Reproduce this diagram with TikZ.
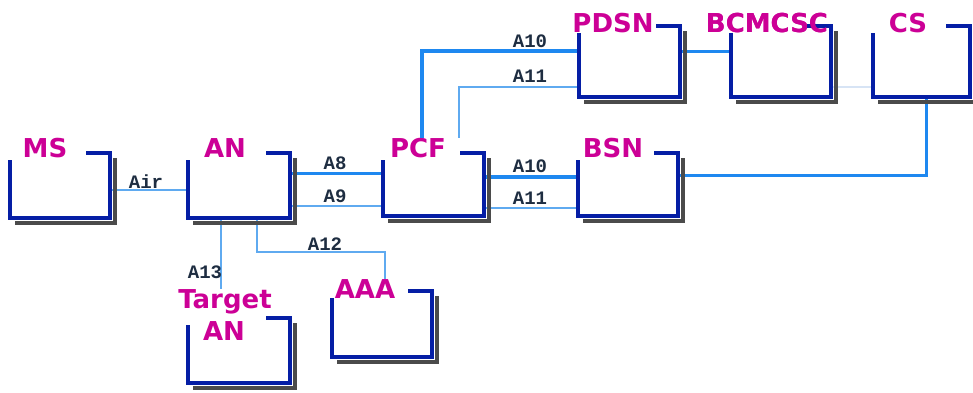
\documentclass[tikz,border=0pt]{standalone}
\usepackage{fontspec}
\newfontfamily\boxfont{DejaVu Sans}
\newfontfamily\linkfont{Liberation Mono}
\definecolor{framecol}{RGB}{5,30,165}
\definecolor{shadowcol}{RGB}{75,75,75}
\definecolor{labelcol}{RGB}{204,0,150}
\definecolor{linkdark}{RGB}{30,136,240}
\definecolor{linklight}{RGB}{95,170,240}
\definecolor{linkfaint}{RGB}{215,228,245}
\definecolor{textcol}{RGB}{30,45,65}
\begin{document}
\begin{tikzpicture}[x=1pt,y=-1pt,
  netbox/.style 2 args={minimum width=#1pt, minimum height=#2pt, inner sep=0pt, outer sep=0pt},
  boxframe/.style={draw=framecol, line width=4pt, miter limit=10},
  boxshadow/.style={draw=shadowcol, line width=4.5pt},
  boxlabel/.style={anchor=base, inner sep=0pt, text=labelcol, font=\boxfont\bfseries\fontsize{26}{26}\selectfont},
  linklabel/.style={inner sep=0pt, text=textcol, font=\linkfont\bfseries\fontsize{19}{19}\selectfont},
  bigwire/.style={draw=linkdark, line width=4pt},
  midwire/.style={draw=linkdark, line width=3pt},
  thinwire/.style={draw=linklight, line width=1.6pt},
  faintwire/.style={draw=linkfaint, line width=1.2pt}]
\useasboundingbox[fill=white] (0,0) rectangle (973,392);

% boxes
\node[netbox={100}{65}] (ms) at (60,185.5) {};
\node[netbox={102}{65}] (an) at (239,185.5) {};
\node[netbox={101}{63}] (pcf) at (433.5,184.5) {};
\node[netbox={100}{63}] (bsn) at (628,184.5) {};
\node[netbox={101}{71}] (pdsn) at (629.5,61.5) {};
\node[netbox={100}{71}] (bcmcsc) at (781,61.5) {};
\node[netbox={97}{71}] (cs) at (921.5,61.5) {};
\node[netbox={102}{65}] (tan) at (239,350.5) {};
\node[netbox={100}{66}] (aaa) at (382,324) {};

% box labels
\node[boxlabel] (msl) at (45,157) {MS};
\node[boxlabel] (anl) at (225,157) {AN};
\node[boxlabel] (pcfl) at (418,157) {PCF};
\node[boxlabel] (bsnl) at (613,157) {BSN};
\node[boxlabel] (pdsnl) at (613,32) {PDSN};
\node[boxlabel] (bcmcscl) at (767,32) {BCMCSC};
\node[boxlabel] (csl) at (908,32) {CS};
\node[boxlabel] (aaal) at (365,298) {AAA};
\node[boxlabel] (tanl1) at (225,308) {Target};
\node[boxlabel] (tanl2) at (224,340) {AN};

% connectors
\draw[thinwire] ([yshift=-4.5pt]ms.east) -- ([yshift=-4.5pt]ms.east -| an.west);
\draw[midwire] ([yshift=12.5pt]an.east) -- ([yshift=12.5pt]an.east -| pcf.west);
\draw[thinwire] ([yshift=-20.5pt]an.east) -- ([yshift=-20.5pt]an.east -| pcf.west);
\draw[bigwire] ([yshift=7.5pt]pcf.east) -- ([yshift=7.5pt]pcf.east -| bsn.west);
\draw[thinwire] ([yshift=-23.5pt]pcf.east) -- ([yshift=-23.5pt]pcf.east -| bsn.west);
\draw[bigwire] ([xshift=-11.5pt]pcf.north |- pcfl.north) |- ([yshift=10.5pt]pdsn.west);
\draw[thinwire] ([xshift=25.5pt]pcf.north |- pcfl.north) |- ([yshift=-25.5pt]pdsn.west);
\draw[midwire] ([yshift=10.5pt]pdsn.east) -- ([yshift=10.5pt]pdsn.east -| bcmcsc.west);
\draw[faintwire] ([yshift=-25.5pt]bcmcsc.east) -- ([yshift=-25.5pt]bcmcsc.east -| cs.west);
\draw[midwire] ([yshift=9.5pt]bsn.east) -| ([xshift=4.5pt]cs.south);
\draw[thinwire] ([xshift=-18pt]an.south) -- ([xshift=-18pt]an.south |- tanl1.north);
\coordinate (a12bend) at (385,252);
\draw[thinwire] ([xshift=18pt]an.south) |- (a12bend) -- (a12bend |- aaal.north);

% shadows and frames
\foreach \n in {ms,an,pcf,bsn,pdsn,bcmcsc,cs,tan,aaa}{
  \draw[boxshadow] ([xshift=5pt,yshift=-5pt]\n.south west) -- ([xshift=5pt,yshift=-5pt]\n.south east) -- ([xshift=5pt,yshift=-5pt]\n.north east);
  \draw[boxframe] ([yshift=-7pt]\n.north west) -- (\n.south west) -- (\n.south east) -- (\n.north east) -- ([xshift=-24pt]\n.north east);
}

% box labels redrawn above frames
\node[boxlabel] at (767,32) {BCMCSC};

% link labels
\node[linklabel] (lair) at (146,182) {Air};
\node[linklabel] (la8) at (335,163) {A8};
\node[linklabel] (la9) at (335,196) {A9};
\node[linklabel] (la10b) at (530,166) {A10};
\node[linklabel] (la11b) at (530,198) {A11};
\node[linklabel] (la10t) at (530,41) {A10};
\node[linklabel] (la11t) at (530,76) {A11};
\node[linklabel] (la12) at (325,244) {A12};
\node[linklabel] (la13) at (205,272) {A13};
\end{tikzpicture}
\end{document}
